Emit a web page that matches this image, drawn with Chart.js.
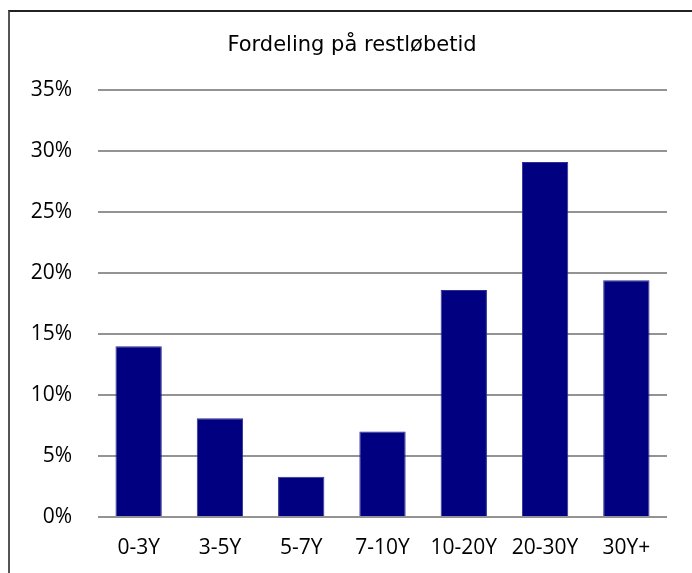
<!DOCTYPE html>
<html>
<head>
<meta charset="utf-8">
<title>Fordeling på restløbetid</title>
<script src="https://cdn.jsdelivr.net/npm/chart.js@4/dist/chart.umd.min.js"></script>
<style>
  html, body { margin: 0; padding: 0; background: #fff; overflow: hidden; }
  #wrap { position: relative; width: 692px; height: 573px; }
  #frame {
    position: absolute; left: 8px; top: 10px; width: 720px; height: 620px;
    border-left: 2px solid #555; border-top: 2px solid #222;
    pointer-events: none;
  }
  canvas { position: absolute; left: 0; top: 0; }
</style>
</head>
<body>
<div id="wrap">
  <canvas id="maturity" width="692" height="573"></canvas>
  <div id="frame"></div>
</div>
<script>
  "use strict";

  // andel per løbetidsbucket, i procent
  const categories = ["0-3Y", "3-5Y", "5-7Y", "7-10Y", "10-20Y", "20-30Y", "30Y+"];
  const shares = [14.0, 8.1, 3.3, 7.0, 18.6, 29.1, 19.4];
  const yTicks = [0, 5, 10, 15, 20, 25, 30, 35];
  const chartTitle = "Fordeling på restløbetid";

  Chart.defaults.font.family = '"Open Sans", "DejaVu Sans", sans-serif';
  Chart.defaults.color = "#000";

  // overskriften sidder lidt til højre for lærredets midte, så den tegnes selv
  const titlePlugin = {
    id: "centerTitle",
    afterDraw: function (chart) {
      const c = chart.ctx;
      c.save();
      c.font = '21px "DejaVu Sans", Verdana, sans-serif';
      c.fillStyle = "#000";
      c.textAlign = "center";
      c.textBaseline = "middle";
      c.fillText(chartTitle, 352, 46);
      c.restore();
    },
  };

  const ctx = document.getElementById("maturity").getContext("2d");

  new Chart(ctx, {
    type: "bar",
    data: {
      labels: categories,
      datasets: [
        {
          label: "Andel",
          data: shares,
          backgroundColor: "#000080",
          borderColor: "#2e2e96",
          borderWidth: 1,
          barPercentage: 0.57,
          categoryPercentage: 1,
        },
      ],
    },
    plugins: [titlePlugin],
    options: {
      responsive: false,
      animation: false,
      layout: { padding: { left: 0, right: 25, top: 90, bottom: 0 } },
      plugins: {
        legend: { display: false },
        tooltip: { enabled: false },
        title: { display: false },
      },
      scales: {
        x: {
          grid: { display: false, drawTicks: false },
          border: { display: false },
          ticks: { font: { size: 21 }, padding: 18, maxRotation: 0 },
          afterFit: function (s) { s.height = 56; },
        },
        y: {
          min: 0,
          max: 35,
          afterBuildTicks: function (s) {
            s.ticks = yTicks.map(function (v) { return { value: v }; });
          },
          grid: { color: "#939393", lineWidth: 2, drawTicks: false },
          border: { display: false },
          ticks: {
            font: { size: 21 },
            padding: 26,
            callback: function (v) { return v + "%"; },
          },
          afterFit: function (s) { s.width = 98; },
        },
      },
    },
  });
</script>
</body>
</html>
